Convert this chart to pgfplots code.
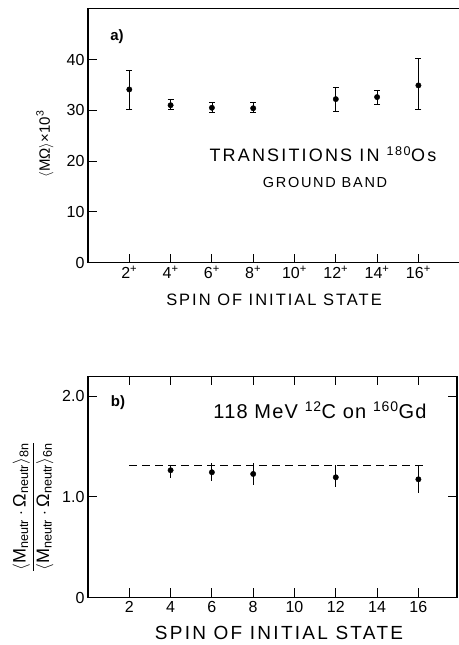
\documentclass[border=0pt]{standalone}
\usepackage{pgfplots}
\pgfplotsset{compat=1.18}
\usepackage{amsmath}
\usepackage{fontspec}
\setmainfont{Liberation Sans}
\newfontfamily\spaced[LetterSpace=12]{Liberation Sans}
\newfontfamily\sspaced[LetterSpace=6]{Liberation Sans}
\begin{document}
\begin{tikzpicture}[x=1pt,y=1pt]
\pgfplotsset{
  myax/.style={
    scale only axis, anchor=south west,
    axis line style={line width=1.2pt},
    tick style={line width=0.9pt, black},
    major tick length=9pt, tick align=inside,
    /pgf/number format/assume math mode=true,
    tick label style={font=\fontsize{16}{18}\selectfont},
    clip=false,
  }
}
% Panel a
\begin{axis}[myax, at={(88pt,382.3pt)}, width=371.7pt, height=254pt,
  xmin=0, xmax=18, ymin=0, ymax=50,
  xtick={2,4,6,8,10,12,14,16},
  xticklabels={2\textsuperscript{+},4\textsuperscript{+},6\textsuperscript{+},8\textsuperscript{+},10\textsuperscript{+},12\textsuperscript{+},14\textsuperscript{+},16\textsuperscript{+}},
  ytick={0,10,20,30,40},
  xtick pos=bottom, ytick pos=left,
]
\addplot[black, only marks, mark=*, mark size=2.7pt,
  error bars/.cd, y dir=both, y explicit,
  error mark=-, error mark options={line width=0.8pt, mark size=3pt, rotate=90},
  error bar style={line width=0.8pt}]
  table[x=x, y=y, y error plus=ep, y error minus=em] {
x y ep em
2 34.1 3.8 4.0
4 31.0 1.2 0.9
6 30.5 1.1 1.0
8 30.4 1.2 0.9
12 32.2 2.4 2.5
14 32.6 1.4 1.4
16 34.9 5.3 4.8
};
\end{axis}
% Panel b
\begin{axis}[myax, at={(88pt,47.5pt)}, width=369pt, height=221.3pt,
  xmin=0, xmax=17.87, ymin=0, ymax=2.2,
  xtick={2,4,6,8,10,12,14,16},
  ytick={0,1,2}, yticklabels={0,1.0,2.0},
  xtick pos=both, ytick pos=both,
  xticklabel pos=bottom, yticklabel pos=left,
]
\addplot[black, line width=0.8pt, dash pattern=on 8pt off 5pt] coordinates {(2,1.31) (16.47,1.31)};
\addplot[black, only marks, mark=*, mark size=2.7pt,
  error bars/.cd, y dir=both, y explicit, error mark=none,
  error bar style={line width=0.9pt}]
  table[x=x, y=y, y error plus=ep, y error minus=em] {
x y ep em
4 1.265 0.05 0.08
6 1.245 0.09 0.09
8 1.228 0.105 0.11
12 1.195 0.12 0.10
16 1.175 0.14 0.14
};
\end{axis}
% texts
\node[font=\bfseries\fontsize{15}{17}\selectfont] at (117,608) {a)};
\node[font=\spaced\fontsize{18}{20}\selectfont] at (323,491) {TRANSITIONS IN \textsuperscript{180}Os};
\node[font=\spaced\fontsize{14.5}{16}\selectfont] at (325,462) {GROUND BAND};
\node[font=\spaced\fontsize{16.5}{18}\selectfont] at (274,345) {SPIN OF INITIAL STATE};
\node[rotate=90, font=\fontsize{15}{17}\selectfont] at (45,501) {$\langle\text{MΩ}\rangle\text{×}\text{10}^{\text{3}}$};
\node[font=\bfseries\fontsize{15}{17}\selectfont] at (118,242) {b)};
\node[font=\sspaced\fontsize{20}{22}\selectfont] at (320,235) {118 MeV \textsuperscript{12}C on \textsuperscript{160}Gd};
\node[font=\spaced\fontsize{19}{21}\selectfont] at (279,12) {SPIN OF INITIAL STATE};
\node[rotate=90, font=\fontsize{18}{20}\selectfont] at (33,138) {$\dfrac{\langle\text{M}_{\text{neutr}}\cdot\text{Ω}_{\text{neutr}}\rangle_{\text{8n}}}{\langle\text{M}_{\text{neutr}}\cdot\text{Ω}_{\text{neutr}}\rangle_{\text{6n}}}$};
\pgfresetboundingbox
\path[use as bounding box] (0,0) rectangle (458,645);
\end{tikzpicture}
\end{document}
